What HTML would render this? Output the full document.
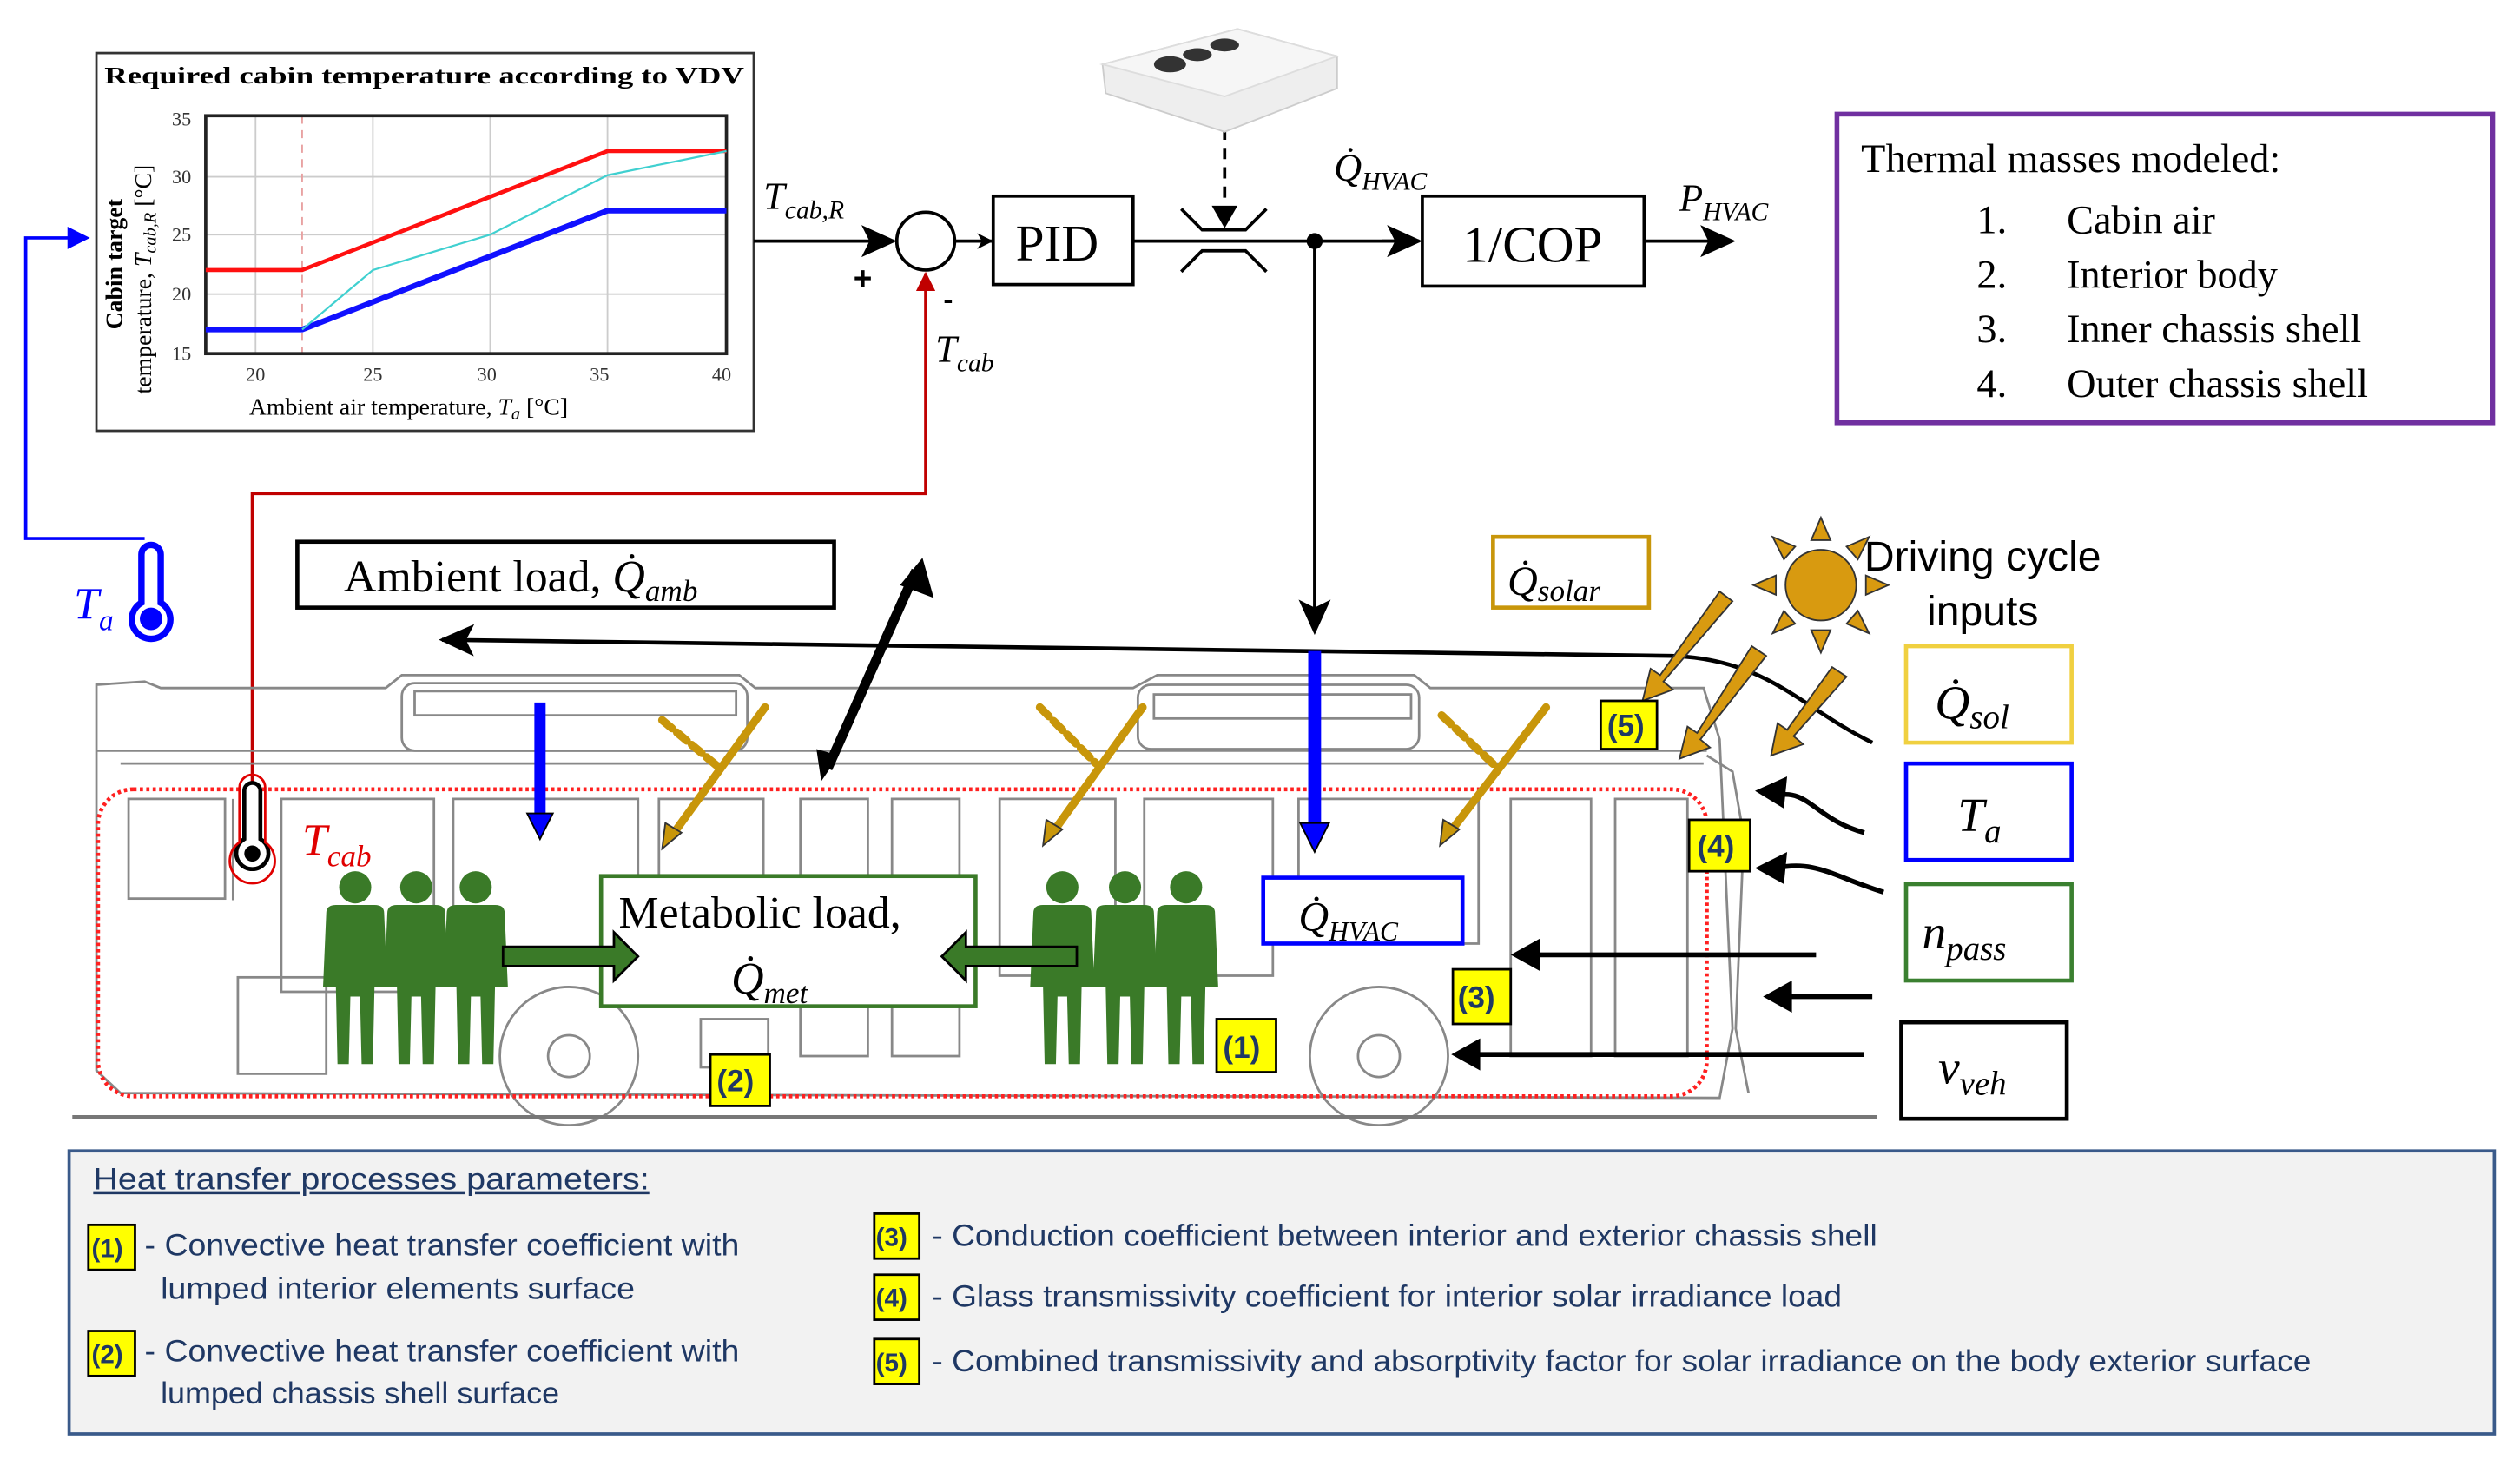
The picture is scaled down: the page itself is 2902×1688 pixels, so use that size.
<!DOCTYPE html>
<html><head><meta charset="utf-8"><style>
html,body{margin:0;padding:0;background:#fff}
svg{display:block}
.serif{font-family:"Liberation Serif",serif}
.it{font-family:"Liberation Serif",serif;font-style:italic}
.nar{font-family:"Liberation Sans Narrow","Liberation Sans",sans-serif}
</style></head><body>
<svg width="2902" height="1688" viewBox="0 0 1568 912" preserveAspectRatio="none" xmlns="http://www.w3.org/2000/svg">
<defs>
<marker id="ab" markerWidth="10" markerHeight="10" refX="9" refY="5" orient="auto" markerUnits="userSpaceOnUse"><path d="M0,0 L10,5 L0,10 L3,5 z" fill="#000"/></marker>
<marker id="abig" markerWidth="22" markerHeight="20" refX="20" refY="10" orient="auto" markerUnits="userSpaceOnUse"><path d="M0,0 L22,10 L0,20 L5,10 z" fill="#000"/></marker>
<marker id="ar" markerWidth="12" markerHeight="12" refX="11" refY="6" orient="auto" markerUnits="userSpaceOnUse"><path d="M0,0 L12,6 L0,12 z" fill="#c00000"/></marker>
<marker id="abl" markerWidth="14" markerHeight="14" refX="12" refY="7" orient="auto" markerUnits="userSpaceOnUse"><path d="M0,0 L14,7 L0,14 z" fill="#0000ff"/></marker>
<g id="pp"><circle cx="0" cy="0" r="10"/><path d="M-18,16 Q-18,11 -12,11 L12,11 Q18,11 18,16 L20,62 L12,62 L11,110 L4,110 L3,68 L-3,68 L-4,110 L-11,110 L-12,62 L-20,62 z"/></g>
</defs>

<!-- Chart -->
<rect x="60" y="33" width="409" height="235" fill="#fff" stroke="#333" stroke-width="1.5"/>
<text x="65" y="52" class="serif" font-weight="bold" font-size="15" textLength="398" lengthAdjust="spacingAndGlyphs">Required cabin temperature according to VDV</text>
<g stroke="#ccc" stroke-width="1">
<line x1="128" y1="110" x2="452" y2="110"/><line x1="128" y1="146" x2="452" y2="146"/><line x1="128" y1="183" x2="452" y2="183"/>
<line x1="159" y1="72" x2="159" y2="220"/><line x1="232" y1="72" x2="232" y2="220"/><line x1="305" y1="72" x2="305" y2="220"/><line x1="378" y1="72" x2="378" y2="220"/>
</g>
<line x1="188" y1="72" x2="188" y2="220" stroke="#e8a0a0" stroke-dasharray="5,4" stroke-width="1"/>
<rect x="128" y="72" width="324" height="148" fill="none" stroke="#222" stroke-width="2"/>
<polyline points="128,168 188,168 378,94 452,94" fill="none" stroke="#ff1010" stroke-width="2.5"/>
<polyline points="128,205 188,205 378,131 452,131" fill="none" stroke="#1010ff" stroke-width="3.5"/>
<polyline points="188,205 232,168 305,146 378,109 452,94" fill="none" stroke="#40d0d0" stroke-width="1.2"/>
<g class="serif" font-size="12" fill="#333">
<text x="107" y="78">35</text><text x="107" y="114">30</text><text x="107" y="150">25</text><text x="107" y="187">20</text><text x="107" y="224">15</text>
<text x="153" y="237">20</text><text x="226" y="237">25</text><text x="297" y="237">30</text><text x="367" y="237">35</text><text x="443" y="237">40</text>
</g>
<text x="155" y="258" class="serif" font-size="15">Ambient air temperature, <tspan font-style="italic">T<tspan font-size="11" dy="3">a</tspan></tspan><tspan dy="-3"> [°C]</tspan></text>
<text transform="translate(76,205) rotate(-90)" class="serif" font-size="15" font-weight="bold">Cabin target</text>
<text transform="translate(94,245) rotate(-90)" class="serif" font-size="15">temperature, <tspan font-style="italic">T<tspan font-size="11" dy="3">cab,R</tspan></tspan><tspan dy="-3"> [°C]</tspan></text>

<polyline points="90,335 16,335 16,148 54,148" fill="none" stroke="#0000ff" stroke-width="2" marker-end="url(#abl)"/>
<g stroke="#0000ff" stroke-width="4" fill="none"><path d="M88,375 V345 a6,6 0 0 1 12,0 V375 a12,12 0 1 1 -12,0 z"/></g>
<circle cx="94" cy="385" r="7" fill="#0000ff"/>
<text x="46" y="385" class="it" font-size="28" fill="#0000ff">T<tspan font-size="18" dy="7">a</tspan></text>

<text x="475" y="130" class="it" font-size="24">T<tspan font-size="16" dy="6">cab,R</tspan></text>
<line x1="469" y1="150" x2="556" y2="150" stroke="#000" stroke-width="2" marker-end="url(#abig)"/>
<circle cx="576" cy="150" r="18" fill="#fff" stroke="#000" stroke-width="2"/>
<text x="531" y="180" font-family="Liberation Sans" font-weight="bold" font-size="20">+</text>
<text x="587" y="192" font-family="Liberation Sans" font-weight="bold" font-size="18">-</text>
<polyline points="157,490 157,307 576,307 576,170" fill="none" stroke="#c00000" stroke-width="2" marker-end="url(#ar)"/>
<text x="582" y="225" class="it" font-size="24">T<tspan font-size="16" dy="6">cab</tspan></text>
<line x1="594" y1="150" x2="617" y2="150" stroke="#000" stroke-width="2" marker-end="url(#ab)"/>
<rect x="618" y="122" width="87" height="55" fill="#fff" stroke="#000" stroke-width="2"/>
<text x="632" y="162" class="serif" font-size="32">PID</text>
<line x1="705" y1="150" x2="883" y2="150" stroke="#000" stroke-width="2"/>
<polyline points="735,130 748,143 775,143 788,130" fill="none" stroke="#000" stroke-width="2"/>
<polyline points="735,169 748,156 775,156 788,169" fill="none" stroke="#000" stroke-width="2"/>
<line x1="762" y1="80" x2="762" y2="128" stroke="#000" stroke-width="2" stroke-dasharray="7,5"/>
<path d="M754,128 L770,128 L762,142 z" fill="#000"/>
<line x1="860" y1="150" x2="883" y2="150" stroke="#000" stroke-width="2" marker-end="url(#abig)"/>
<circle cx="818" cy="150" r="5" fill="#000"/>
<text x="830" y="112" class="it" font-size="24">Q̇<tspan font-size="16" dy="6">HVAC</tspan></text>
<rect x="885" y="122" width="138" height="56" fill="#fff" stroke="#000" stroke-width="2"/>
<text x="910" y="163" class="serif" font-size="32">1/COP</text>
<line x1="1023" y1="150" x2="1078" y2="150" stroke="#000" stroke-width="2" marker-end="url(#abig)"/>
<text x="1045" y="131" class="it" font-size="24">P<tspan font-size="16" dy="6">HVAC</tspan></text>
<line x1="818" y1="150" x2="818" y2="393" stroke="#000" stroke-width="2" marker-end="url(#abig)"/>

<path d="M686,40 L770,18 L832,35 L832,55 L762,82 L688,58 z" fill="#eee" stroke="#ccc"/>
<path d="M686,40 L770,18 L832,35 L762,60 z" fill="#f6f6f6" stroke="#ddd"/>
<ellipse cx="728" cy="40" rx="10" ry="5" fill="#333"/><ellipse cx="745" cy="34" rx="9" ry="4" fill="#333"/><ellipse cx="762" cy="28" rx="9" ry="4" fill="#333"/>

<rect x="1143" y="71" width="408" height="192" fill="#fff" stroke="#7030a0" stroke-width="3"/>
<g class="serif" font-size="25">
<text x="1158" y="107">Thermal masses modeled:</text>
<text x="1230" y="145">1.</text><text x="1286" y="145">Cabin air</text>
<text x="1230" y="179">2.</text><text x="1286" y="179">Interior body</text>
<text x="1230" y="213">3.</text><text x="1286" y="213">Inner chassis shell</text>
<text x="1230" y="247">4.</text><text x="1286" y="247">Outer chassis shell</text>
</g>

<g fill="none" stroke="#888" stroke-width="1.5">
<path d="M60,440 L60,666 L75,680 L1070,683 L1078,640 L1070,460 L1060,428 L890,428 L880,420 L720,420 L705,428 L470,428 L460,420 L250,420 L240,428 L100,428 L90,424 L60,426 Z"/>
<rect x="250" y="425" width="215" height="42" rx="8"/>
<rect x="258" y="430" width="200" height="15"/>
<rect x="708" y="426" width="175" height="40" rx="8"/>
<rect x="718" y="432" width="160" height="15"/>
<line x1="60" y1="467" x2="1062" y2="467"/>
<line x1="75" y1="475" x2="1060" y2="475"/>
<rect x="80" y="497" width="60" height="62"/>
<line x1="145" y1="497" x2="145" y2="560"/>
<rect x="175" y="497" width="95" height="120"/>
<rect x="282" y="497" width="115" height="100"/>
<rect x="410" y="497" width="65" height="110"/>
<rect x="498" y="497" width="42" height="160"/>
<rect x="555" y="497" width="42" height="160"/>
<rect x="622" y="497" width="72" height="110"/>
<rect x="712" y="497" width="80" height="110"/>
<rect x="808" y="497" width="112" height="90"/>
<rect x="940" y="497" width="50" height="160"/>
<rect x="1005" y="497" width="45" height="160"/>
<rect x="148" y="608" width="55" height="60"/>
<rect x="436" y="634" width="42" height="30"/>
<circle cx="354" cy="657" r="43"/><circle cx="354" cy="657" r="13"/>
<circle cx="858" cy="657" r="43"/><circle cx="858" cy="657" r="13"/>
<path d="M1062,470 L1078,480 L1085,520 L1080,640 L1088,680"/>
</g>
<line x1="45" y1="695" x2="1168" y2="695" stroke="#777" stroke-width="2.5"/>
<rect x="61" y="491" width="1001" height="191" rx="22" fill="none" stroke="#ff2020" stroke-width="2.5" stroke-dasharray="2,2"/>

<rect x="185" y="337" width="334" height="41" fill="#fff" stroke="#000" stroke-width="2.5"/>
<text x="214" y="368" class="serif" font-size="28">Ambient load, <tspan font-style="italic">Q̇<tspan font-size="19" dy="6">amb</tspan></tspan></text>
<path d="M1165,462 C1120,440 1100,410 1040,408 L275,398" fill="none" stroke="#000" stroke-width="2.5" marker-end="url(#abig)"/>
<line x1="515" y1="478" x2="570" y2="355" stroke="#000" stroke-width="6"/>
<path d="M574,347 L581,372 L560,364 z" fill="#000"/>
<path d="M511,486 L508,466 L522,470 z" fill="#000"/>

<line x1="336" y1="437" x2="336" y2="508" stroke="#0000ff" stroke-width="7"/>
<path d="M328,506 L344,506 L336,522 z" fill="#0000ff" stroke="#000"/>
<line x1="818" y1="405" x2="818" y2="514" stroke="#0000ff" stroke-width="8"/>
<path d="M809,512 L827,512 L818,530 z" fill="#0000ff" stroke="#000"/>
<rect x="786" y="546" width="124" height="41" fill="#fff" stroke="#0000ff" stroke-width="2.5"/>
<text x="808" y="579" class="it" font-size="26">Q̇<tspan font-size="17" dy="6">HVAC</tspan></text>

<g stroke="#c8960a" stroke-width="5" fill="none" stroke-linecap="round">
<line x1="476" y1="440" x2="418" y2="520"/><line x1="412" y1="448" x2="448" y2="478" stroke-dasharray="8,4"/>
<line x1="711" y1="440" x2="655" y2="518"/><line x1="647" y1="440" x2="682" y2="475" stroke-dasharray="8,4"/>
<line x1="962" y1="440" x2="902" y2="518"/><line x1="897" y1="445" x2="932" y2="478" stroke-dasharray="8,4"/>
</g>
<g fill="#c8960a" stroke="#333" stroke-width="1"><path d="M412,528 L414,512 L424,518 z"/><path d="M649,526 L651,510 L661,516 z"/><path d="M896,526 L898,510 L908,516 z"/></g>

<g fill="#d89a10" stroke="#333" stroke-width="1">
<circle cx="1133" cy="364" r="22"/>
<path d="M1133,322 L1127,336 L1139,336 z"/><path d="M1133,406 L1127,392 L1139,392 z"/>
<path d="M1091,364 L1105,358 L1105,370 z"/><path d="M1175,364 L1161,358 L1161,370 z"/>
<path d="M1103,334 L1110,348 L1117,340 z"/><path d="M1163,334 L1156,348 L1149,340 z"/>
<path d="M1103,394 L1110,380 L1117,388 z"/><path d="M1163,394 L1156,380 L1149,388 z"/>
</g>
<g stroke="#333" stroke-width="1" fill="#d89a10">
<path d="M1070,368 L1078,374 L1035,424 L1041,429 L1022,436 L1027,416 L1033,420 z"/>
<path d="M1090,402 L1099,408 L1058,460 L1064,465 L1045,472 L1050,452 L1056,456 z"/>
<path d="M1140,415 L1149,421 L1116,458 L1122,463 L1102,470 L1106,450 L1112,454 z"/>
</g>
<rect x="929" y="334" width="97" height="44" fill="#fff" stroke="#c8960a" stroke-width="2.5"/>
<text x="938" y="370" class="it" font-size="26">Q̇<tspan font-size="19" dy="4">solar</tspan></text>
<text x="1160" y="355" font-family="Liberation Sans" font-size="26">Driving cycle</text>
<text x="1199" y="389" font-family="Liberation Sans" font-size="26">inputs</text>

<rect x="1186" y="402" width="103" height="60" fill="#fff" stroke="#f0d040" stroke-width="2.5"/>
<text x="1204" y="447" class="it" font-size="30">Q̇<tspan font-size="21" dy="6">sol</tspan></text>
<rect x="1186" y="475" width="103" height="60" fill="#fff" stroke="#0000ff" stroke-width="2.5"/>
<text x="1218" y="517" class="it" font-size="30">T<tspan font-size="21" dy="7">a</tspan></text>
<rect x="1186" y="550" width="103" height="60" fill="#fff" stroke="#3a8030" stroke-width="2.5"/>
<text x="1196" y="590" class="it" font-size="30">n<tspan font-size="21" dy="7">pass</tspan></text>
<rect x="1183" y="636" width="103" height="60" fill="#fff" stroke="#000" stroke-width="2.5"/>
<text x="1206" y="674" class="it" font-size="30">v<tspan font-size="21" dy="7">veh</tspan></text>

<g stroke="#000" stroke-width="3" fill="none">
<path d="M1160,518 C1130,510 1125,490 1105,495"/>
<path d="M1172,555 C1140,545 1130,535 1105,540"/>
<line x1="1130" y1="594" x2="955" y2="594"/>
<line x1="1165" y1="620" x2="1112" y2="620"/>
<line x1="1160" y1="656" x2="918" y2="656"/>
</g>
<g fill="#000"><path d="M1092,492 L1112,483 L1110,503 z"/><path d="M1092,540 L1112,530 L1110,550 z"/><path d="M940,594 L958,584 L958,604 z"/><path d="M1097,620 L1115,610 L1115,630 z"/><path d="M903,656 L921,646 L921,666 z"/></g>

<path d="M152,522 V492 a5,5 0 0 1 10,0 V522 a10,10 0 1 1 -10,0 z" fill="#fff" stroke="#000" stroke-width="2.5"/>
<path d="M149,524 V490 a8,8 0 0 1 16,0 V524 a14,14 0 1 1 -16,0 z" fill="none" stroke="#e00000" stroke-width="1.5"/>
<circle cx="157" cy="531" r="5" fill="#000"/>
<text x="188" y="532" class="it" font-size="28" fill="#e00000">T<tspan font-size="19" dy="7">cab</tspan></text>

<rect x="374" y="545" width="233" height="81" fill="#fff" stroke="#3a7a28" stroke-width="2.5"/>
<text x="385" y="577" class="serif" font-size="28">Metabolic load,</text>
<text x="455" y="618" class="it" font-size="28">Q̇<tspan font-size="19" dy="6">met</tspan></text>

<g fill="#3a7a28">
<use href="#pp" x="221" y="552"/><use href="#pp" x="259" y="552"/><use href="#pp" x="296" y="552"/>
<use href="#pp" x="661" y="552"/><use href="#pp" x="700" y="552"/><use href="#pp" x="738" y="552"/>
</g>
<g fill="#3a7a28" stroke="#000" stroke-width="1.5">
<path d="M313,589 L382,589 L382,580 L397,595 L382,610 L382,601 L313,601 z"/>
<path d="M670,589 L601,589 L601,580 L586,595 L601,610 L601,601 L670,601 z"/>
</g>

<g font-family="Liberation Sans" font-weight="bold" font-size="19" fill="#1f3864">
<rect x="996" y="436" width="35" height="30" fill="#ffff00" stroke="#000" stroke-width="1.5"/><text x="1000" y="458">(5)</text>
<rect x="1051" y="510" width="38" height="32" fill="#ffff00" stroke="#000" stroke-width="1.5"/><text x="1056" y="533">(4)</text>
<rect x="904" y="603" width="36" height="34" fill="#ffff00" stroke="#000" stroke-width="1.5"/><text x="907" y="627">(3)</text>
<rect x="757" y="634" width="37" height="33" fill="#ffff00" stroke="#000" stroke-width="1.5"/><text x="761" y="658">(1)</text>
<rect x="442" y="656" width="37" height="32" fill="#ffff00" stroke="#000" stroke-width="1.5"/><text x="446" y="679">(2)</text>
</g>

<rect x="43" y="716" width="1509" height="176" fill="#f2f2f2" stroke="#3a5a8a" stroke-width="2"/>
<g class="nar" font-size="19" fill="#1f3864">
<text x="58" y="740" text-decoration="underline" textLength="346" lengthAdjust="spacingAndGlyphs">Heat transfer processes parameters:</text>
<rect x="55" y="762" width="29" height="28" fill="#ffff00" stroke="#000" stroke-width="1.5"/><text x="57" y="782" font-weight="bold" font-size="16">(1)</text>
<text x="90" y="781" textLength="370" lengthAdjust="spacingAndGlyphs">- Convective heat transfer coefficient with</text>
<text x="100" y="808" textLength="295" lengthAdjust="spacingAndGlyphs">lumped interior elements surface</text>
<rect x="55" y="828" width="29" height="28" fill="#ffff00" stroke="#000" stroke-width="1.5"/><text x="57" y="848" font-weight="bold" font-size="16">(2)</text>
<text x="90" y="847" textLength="370" lengthAdjust="spacingAndGlyphs">- Convective heat transfer coefficient with</text>
<text x="100" y="873" textLength="248" lengthAdjust="spacingAndGlyphs">lumped chassis shell surface</text>
<rect x="544" y="755" width="28" height="28" fill="#ffff00" stroke="#000" stroke-width="1.5"/><text x="545" y="775" font-weight="bold" font-size="16">(3)</text>
<text x="580" y="775" textLength="588" lengthAdjust="spacingAndGlyphs">- Conduction coefficient between interior and exterior chassis shell</text>
<rect x="544" y="793" width="28" height="28" fill="#ffff00" stroke="#000" stroke-width="1.5"/><text x="545" y="813" font-weight="bold" font-size="16">(4)</text>
<text x="580" y="813" textLength="566" lengthAdjust="spacingAndGlyphs">- Glass transmissivity coefficient for interior solar irradiance load</text>
<rect x="544" y="833" width="28" height="28" fill="#ffff00" stroke="#000" stroke-width="1.5"/><text x="545" y="853" font-weight="bold" font-size="16">(5)</text>
<text x="580" y="853" textLength="858" lengthAdjust="spacingAndGlyphs">- Combined transmissivity and absorptivity factor for solar irradiance on the body exterior surface</text>
</g>
</svg>
</body></html>
